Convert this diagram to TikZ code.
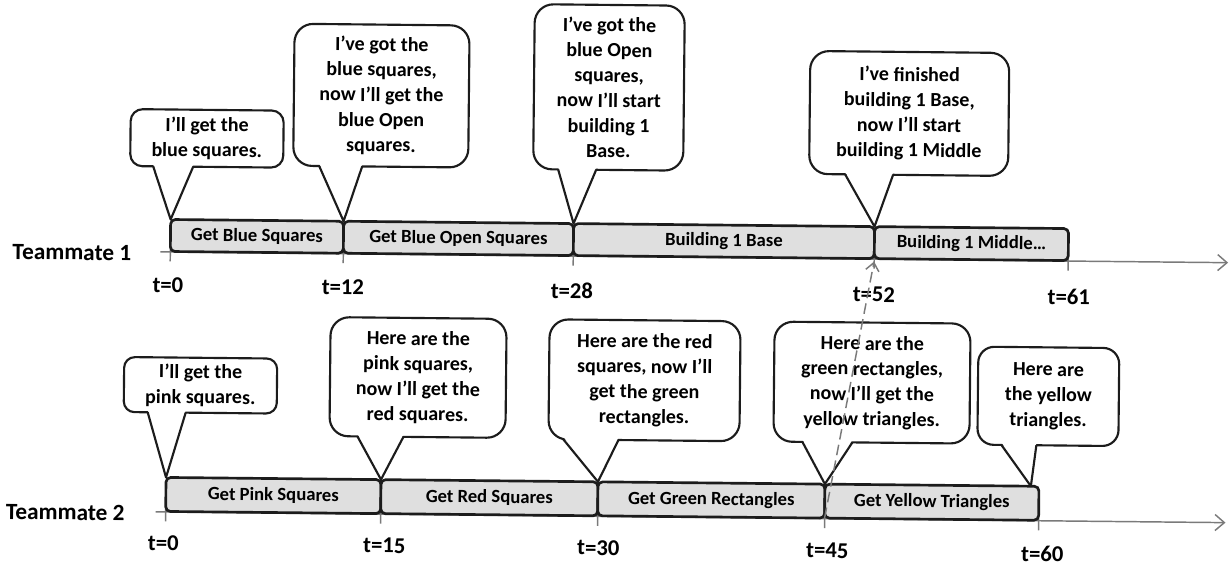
\documentclass[tikz,border=0pt]{standalone}
\usepackage{fontspec}
\setmainfont{Carlito}
\usetikzlibrary{arrows.meta,calc}

\definecolor{ink}{HTML}{1C1C1C}
\definecolor{barfill}{HTML}{DFDFDF}
\definecolor{axisgray}{HTML}{7A7A7A}

% bar segment: name, x1, x2, y1, y2, label
\newcommand\taskseg[6]{%
  \node[segbox, minimum width={(#3-#2)*0.75pt}, minimum height={(#5-#4)*0.75pt}]
    (#1) at ({(#2+#3)/2},{(#4+#5)/2}) {#6};}

% speech bubble: options, x1, y1, x2, y2, tail base left, tail base right, tail tip
\newcommand\callout[8]{%
  \draw[bubble,#1] (#2,#3) rectangle (#4,#5);
  \fill[white] (#6,#5-2.5) -- (#8) -- (#7,#5-2.5) -- cycle;
  \draw[tail] (#6,#5) -- (#8) -- (#7,#5);}

\begin{document}
\begin{tikzpicture}[x=0.75pt,y=-0.75pt,
  bubble/.style={draw=ink, line width=1.6pt, fill=white, rounded corners=14pt},
  tail/.style={draw=ink, line width=1.6pt, line join=round},
  segbox/.style={draw=ink, line width=2pt, fill=barfill, rounded corners=3.5pt,
    inner sep=0pt, outer sep=0pt, font=\fontsize{14}{16}\selectfont\bfseries},
  say/.style={align=center, inner sep=0pt, font=\fontsize{15}{18.9}\selectfont\bfseries},
  tlabel/.style={inner sep=0pt, font=\fontsize{17}{20}\selectfont\bfseries},
  who/.style={anchor=west, inner sep=0pt, font=\fontsize{17.5}{20}\selectfont\bfseries},
  axis/.style={draw=axisgray, line width=1.1pt,
    -{Straight Barb[length=7pt,width=12pt,line width=1.1pt]}},
  tick/.style={draw=axisgray, line width=1.1pt},
  link/.style={draw=axisgray, line width=1.1pt, dash pattern=on 8pt off 4pt,
    -{Straight Barb[length=6pt,width=10pt,line width=1.1pt]}}]
\useasboundingbox (0,0) rectangle (1232,567);

\begin{scope}[rotate around={-0.58:(616,283)}, transform shape]

% ---- time axes ----
\coordinate (a1s) at (160,256.5);
\coordinate (a1e) at (1228,256.5);
\coordinate (a2s) at (158,516.5);
\coordinate (a2e) at (1228,516.5);
\draw[axis] (a1s) -- (a1e);
\draw[axis] (a2s) -- (a2e);
\foreach \x in {170,343,573,874,1068} \draw[tick] (\x,253) -- (\x,266);
\foreach \x in {168,383,600,827,1041} \draw[tick] (\x,513) -- (\x,526);

% ---- teammate 1 tasks ----
\taskseg{s1}{170}{343}{224}{256}{Get Blue Squares}
\taskseg{s2}{343}{573}{224}{256}{Get Blue Open Squares}
\taskseg{s3}{573}{874}{224}{256}{Building 1 Base}
\taskseg{s4}{874}{1068}{224}{256}{Building 1 Middle…}

% ---- teammate 2 tasks ----
\taskseg{s5}{168}{383}{482}{516}{Get Pink Squares}
\taskseg{s6}{383}{600}{482}{516}{Get Red Squares}
\taskseg{s7}{600}{827}{482}{516}{Get Green Rectangles}
\taskseg{s8}{827}{1041}{482}{516}{Get Yellow Triangles}

% ---- teammate 1 speech ----
\callout{rounded corners=9pt}{129}{114}{282}{171}{152}{192}{s1.north west}
\node[say] (p1) at ({(129+282)/2},{(114+171)/2}) {I'll get the\\blue squares.};
\callout{}{292}{27}{467}{169}{318}{361}{s1.north east}
\node[say] (p2) at ({(292+467)/2},{(27+169)/2}) {I've got the\\blue squares,\\now I'll get the\\blue Open\\squares.};
\callout{}{532}{5}{682}{170}{557}{595}{s2.north east}
\node[say] (p3) at ({(532+682)/2},{(5+170)/2}) {I've got the\\blue Open\\squares,\\now I'll start\\building 1\\Base.};
\callout{}{808}{49}{1007}{172}{844}{892}{s3.north east}
\node[say] (p4) at ({(808+1007)/2},{(49+172)/2}) {I've finished\\building 1 Base,\\now I'll start\\building 1 Middle};

% ---- teammate 2 speech ----
\coordinate (q5tip) at (1033,482);
\callout{rounded corners=8pt}{125}{362}{278}{417}{149}{187}{s5.north west}
\node[say] (q1) at ({(125+278)/2},{(362+417)/2}) {I'll get the\\pink squares.};
\callout{}{331}{320}{507}{439}{359}{405}{s5.north east}
\node[say] (q2) at ({(331+507)/2},{(320+439)/2}) {Here are the\\pink squares,\\now I'll get the\\red squares.};
\callout{}{550}{320}{741}{440}{565}{620}{s6.north east}
\node[say] (q3) at ({(550+741)/2},{(320+440)/2}) {Here are the red\\squares, now I'll\\get the green\\rectangles.};
\callout{}{775}{320}{971}{440}{804}{854}{s7.north east}
\node[say] (q4) at ({(775+971)/2},{(320+440)/2}) {Here are the\\green rectangles,\\now I'll get the\\yellow triangles.};
\callout{rounded corners=12pt}{979}{343}{1120}{441}{1003}{1038}{q5tip}
\node[say] (q5) at ({(979+1120)/2},{(343+441)/2}) {Here are\\the yellow\\triangles.};

% ---- row names ----
\node[who] (r1) at (12,258) {Teammate 1};
\node[who] (r2) at (8,518) {Teammate 2};

% ---- time stamps ----
\node[tlabel] (t10) at (168,290) {t=0};
\node[tlabel] (t11) at (343,290) {t=12};
\node[tlabel] (t12) at (572,291) {t=28};
\node[tlabel] (t13) at (874,292) {t=52};
\node[tlabel] (t14) at (1069,292.5) {t=61};
\node[tlabel] (t20) at (166,547.5) {t=0};
\node[tlabel] (t21) at (387,548) {t=15};
\node[tlabel] (t22) at (601,548) {t=30};
\node[tlabel] (t23) at (830,548.5) {t=45};
\node[tlabel] (t24) at (1045,549.5) {t=60};

% ---- hand-off link ----
\coordinate (lk) at ($(s3.south east)+(0,3)$);
\draw[link] (s7.south east) -- (lk);

\end{scope}
\end{tikzpicture}
\end{document}
